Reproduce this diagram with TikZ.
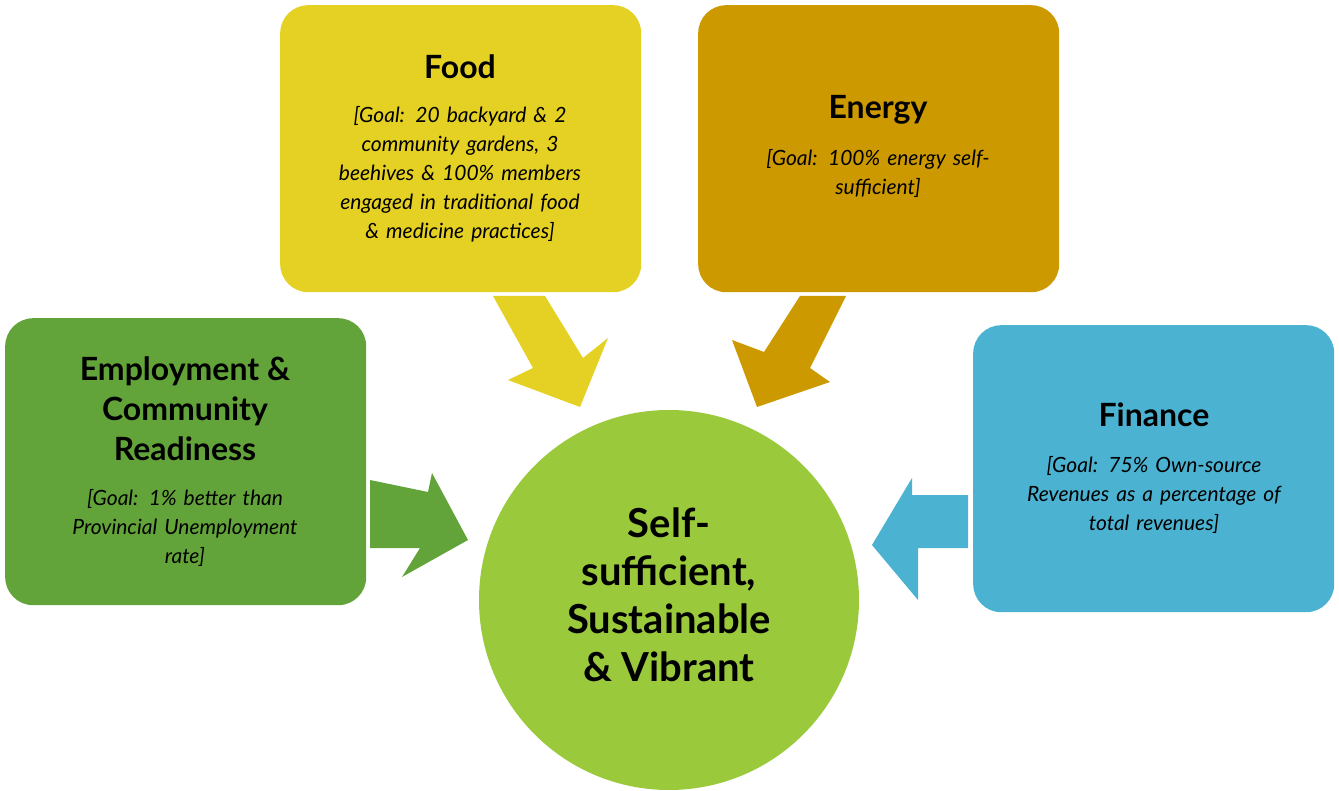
\documentclass[tikz,border=0pt]{standalone}
\usepackage{fontspec}
\setmainfont{Lato}
\definecolor{cfood}{HTML}{E5D024}
\definecolor{cenergy}{HTML}{CC9900}
\definecolor{cemp}{HTML}{63A43A}
\definecolor{cfin}{HTML}{4BB3D1}
\definecolor{ccirc}{HTML}{9ACA3C}
\tikzset{box/.style={rounded corners=28pt,minimum width=361pt,minimum height=287pt,anchor=north west,inner sep=0pt},
ttl/.style={font=\bfseries\fontsize{32}{40}\selectfont,align=center},
body/.style={font=\itshape\fontsize{21}{29}\selectfont,align=center,text width=300pt}}
\begin{document}
\begin{tikzpicture}[x=1pt,y=-1pt]
\useasboundingbox[fill=white] (0,0) rectangle (1339,791);
\node[box,fill=cfood] (food) at (280,5) {};
\node[box,fill=cenergy] (energy) at (698,5) {};
\node[box,fill=cemp] (emp) at (5,318) {};
\node[box,fill=cfin] (fin) at (973,325) {};
\node[circle,fill=ccirc,minimum size=380pt,inner sep=0pt] (c) at (669,600) {};
% arrows
\fill[cfood] (493,296) -- (545,296) -- (583,358) -- (608,338) -- (580,407) -- (508,380) -- (533,368) -- cycle;
\fill[cenergy] (800,296) -- (846,296) -- (810,368) -- (830,382) -- (757,407) -- (732,340) -- (764,352) -- cycle;
\fill[cemp] (370,480) -- (428,492) -- (432,473) -- (468,540) -- (402,577) -- (420,548) -- (370,548) -- cycle;
\fill[cfin] (968,495) -- (968,548) -- (918,548) -- (918,600) -- (872,545) -- (912,478) -- (912,495) -- cycle;
% texts
\node[ttl] (ft) at (460,67) {Food};
\node[body,anchor=north] (fb) at (460,103) {[Goal: 20 backyard \& 2\\community gardens, 3\\beehives \& 100\% members\\engaged in traditional food\\\& medicine practices]};
\node[ttl] (et) at (878,110) {Energy};
\node[body,anchor=north] (eb) at (878,146) {[Goal: 100\% energy self-\\sufficient]};
\node[ttl] (mt) at (185,409) {Employment \&\\Community\\Readiness};
\node[body,anchor=north] (mb) at (185,486) {[Goal: 1\% better than\\Provincial Unemployment\\rate]};
\node[ttl] (nt) at (1154,415) {Finance};
\node[body,anchor=north] (nb) at (1154,453) {[Goal: 75\% Own-source\\Revenues as a percentage of\\total revenues]};
\node[font=\bfseries\fontsize{40}{48}\selectfont,align=center] (ct) at (669,595) {Self-\\sufficient,\\Sustainable\\\& Vibrant};
\end{tikzpicture}
\end{document}
